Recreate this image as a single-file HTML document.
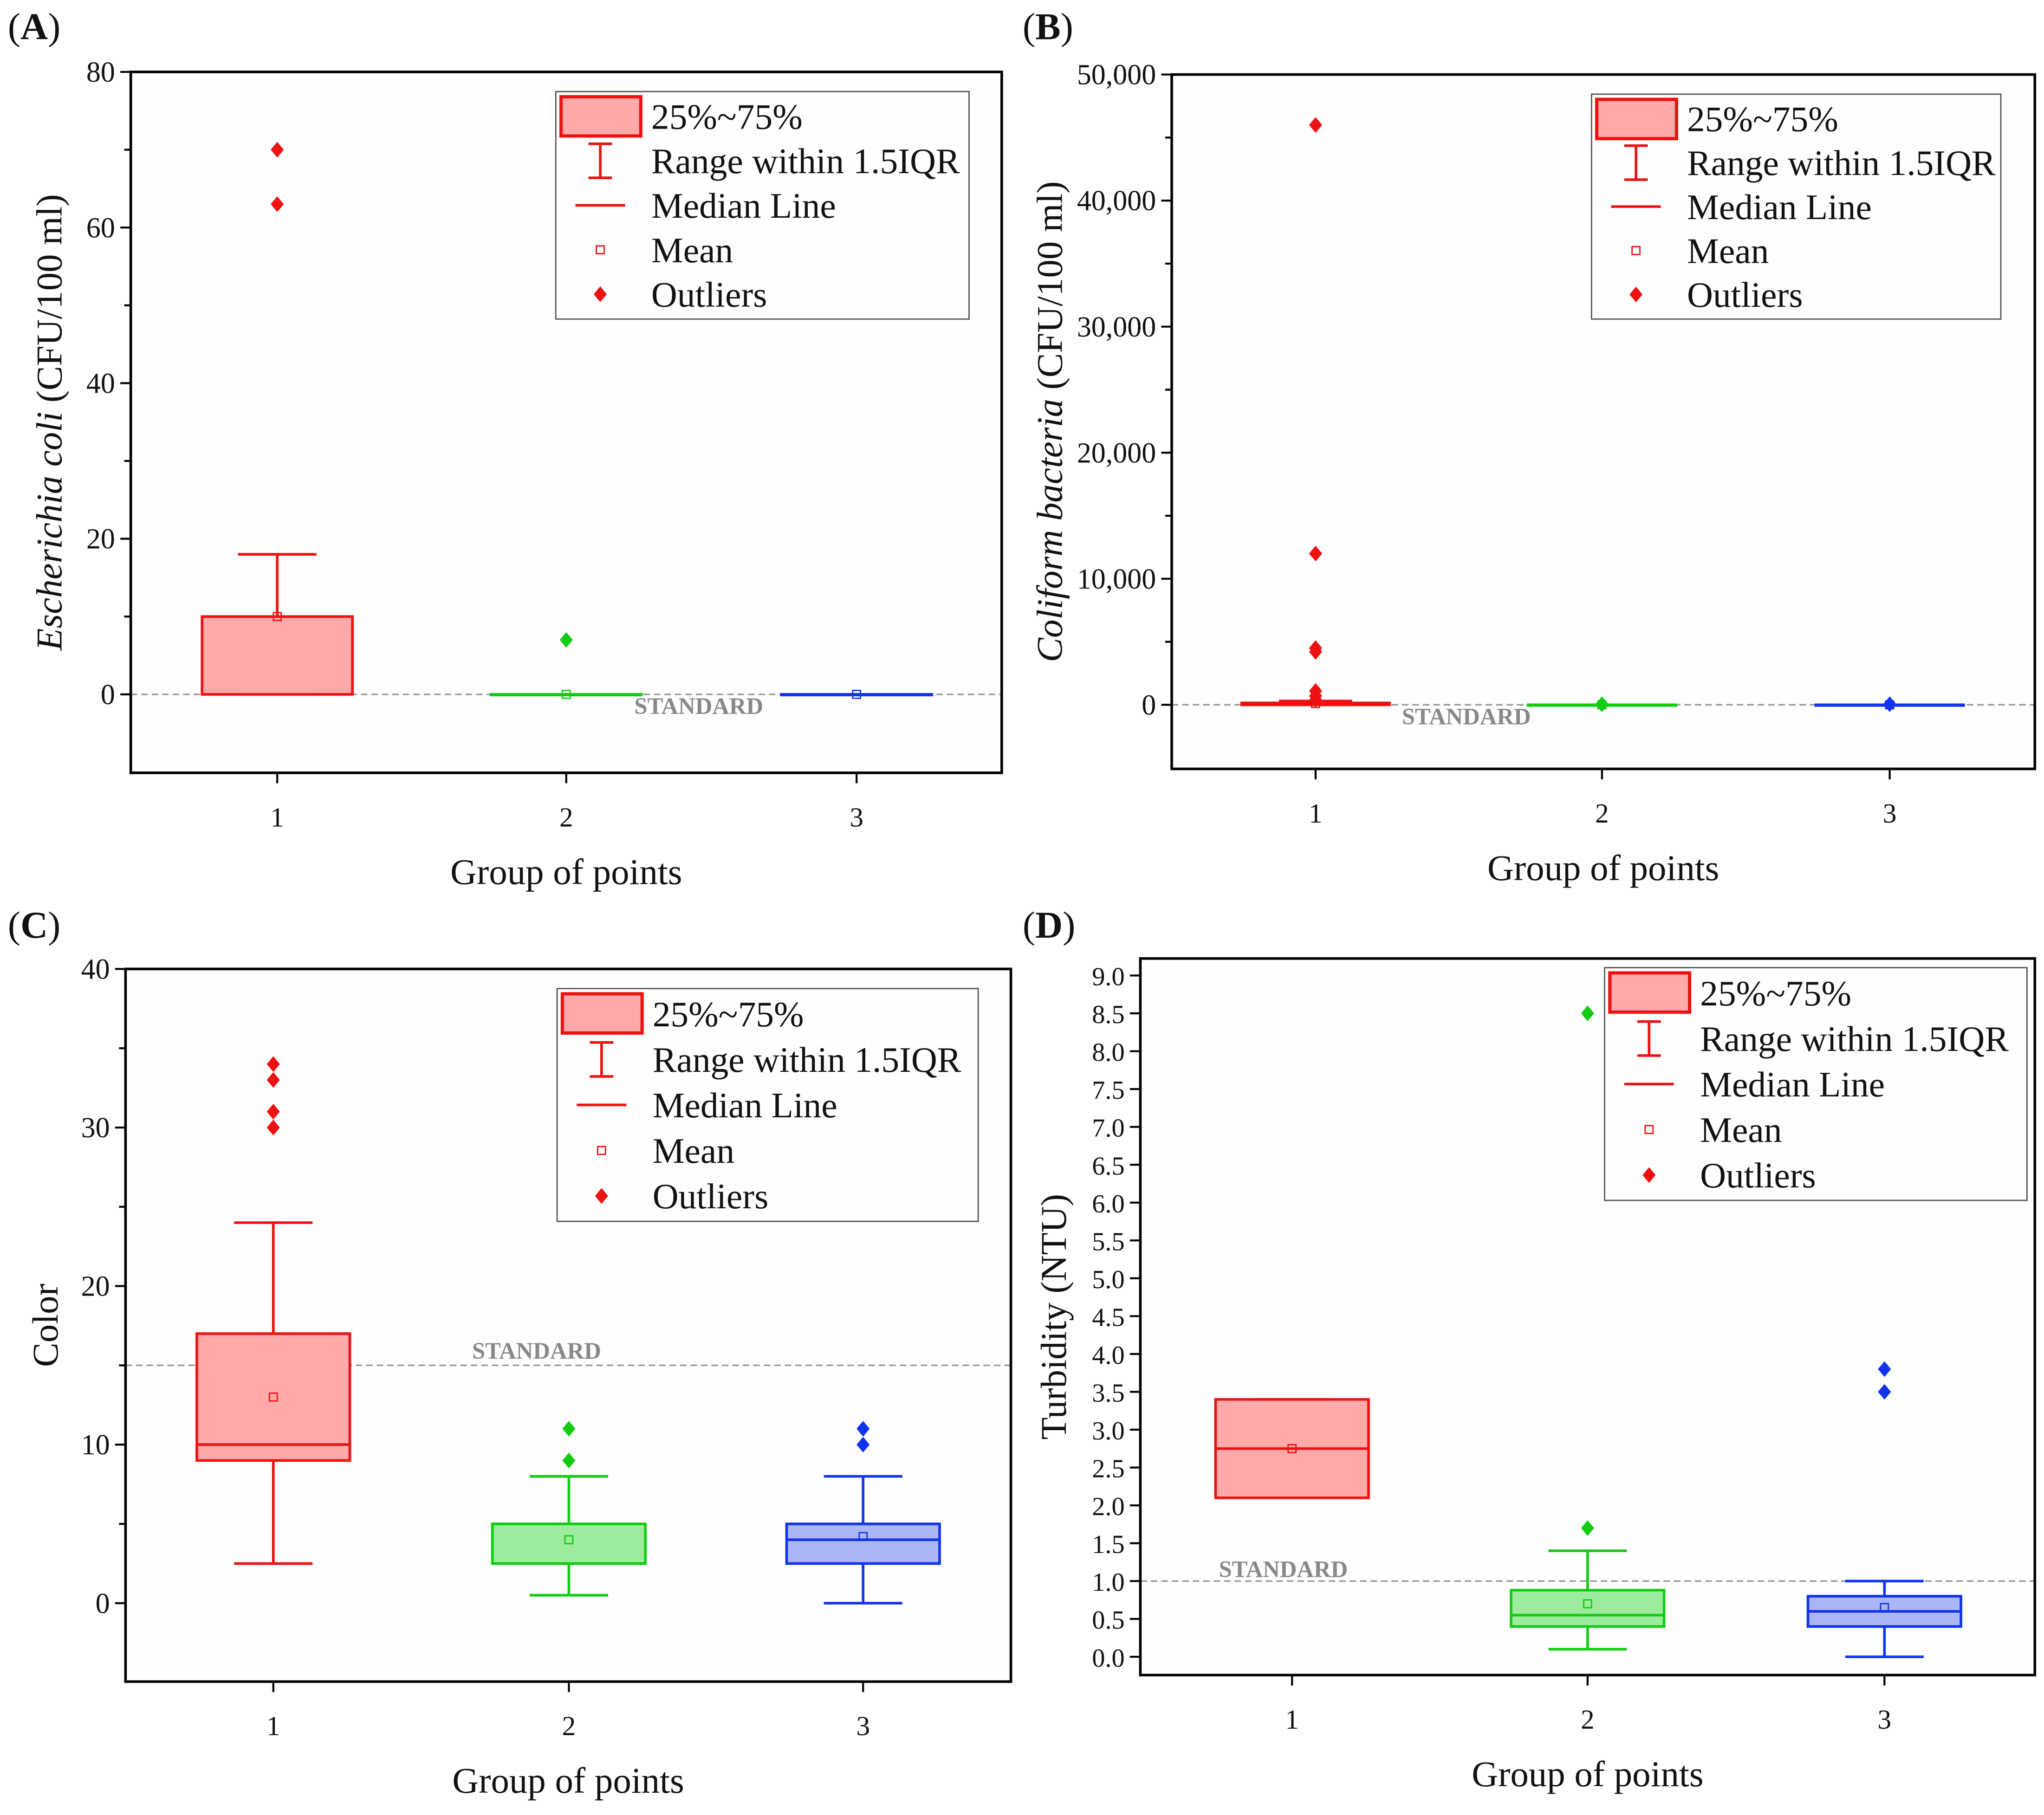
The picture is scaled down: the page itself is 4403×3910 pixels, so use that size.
<!DOCTYPE html>
<html><head><meta charset="utf-8"><style>
html,body{margin:0;padding:0;background:#fff}
svg{display:block}
text{font-family:"Liberation Serif",serif;fill:#111}
</style></head><body>
<svg id="fig" width="4403" height="3910" viewBox="0 0 1563 1388" preserveAspectRatio="none" xmlns="http://www.w3.org/2000/svg"></svg>
<script>
// Panel A: E. coli
const aCategories=["1","2","3"];
const aQ1=[0,0,0], aQ3=[10,0,0], aMedian=[0,0,0], aMean=[10,0,0], aLow=[0,0,0], aHigh=[18,0,0];
const aOutliers=[[63,70],[7],[]];
const aTicks=[0,20,40,60,80];
// Panel B: Coliform
const bCategories=["1","2","3"];
const bQ1=[0,0,0], bQ3=[150,0,0], bMedian=[0,0,0], bMean=[100,0,0], bLow=[0,0,0], bHigh=[300,0,0];
const bOutliers=[[46000,12000,4500,4200,1100,700,400],[50],[50]];
const bTicks=[0,10000,20000,30000,40000,50000];
const bTickLabels=["0","10,000","20,000","30,000","40,000","50,000"];
// Panel C: Color
const cCategories=["1","2","3"];
const cQ1=[9,2.5,2.5], cQ3=[17,5,5], cMedian=[10,2.5,4], cMean=[13,4,4.2], cLow=[2.5,0.5,0], cHigh=[24,8,8];
const cOutliers=[[30,31,33,34],[9,11],[10,11]];
const cTicks=[0,10,20,30,40];
// Panel D: Turbidity
const dCategories=["1","2","3"];
const dQ1=[2.1,0.4,0.4], dQ3=[3.4,0.88,0.8], dMedian=[2.75,0.55,0.6], dMean=[2.75,0.7,0.65], dLow=[2.1,0.1,0], dHigh=[3.4,1.4,1.0];
const dOutliers=[[],[1.7,8.5],[3.5,3.8]];
const dTicks=[0,0.5,1,1.5,2,2.5,3,3.5,4,4.5,5,5.5,6,6.5,7,7.5,8,8.5,9];

const NS="http://www.w3.org/2000/svg";
const svg=document.getElementById('fig');
function el(tag,attrs,parent,txt){const e=document.createElementNS(NS,tag);for(const k in attrs)e.setAttribute(k,attrs[k]);if(txt!==undefined)e.textContent=txt;(parent||svg).appendChild(e);return e;}
const colors=[{s:"#ee1111",f:"#ffaaaa"},{s:"#11cc11",f:"#9dec9d"},{s:"#1133ee",f:"#aab6f6"}];

function panel(p){
  const g=el('g',{});
  
  
  const y=v=>p.y0+(v-p.vmin)/(p.vmax-p.vmin)*(p.y1-p.y0);
  const x=i=>p.cx[i];
  el('rect',{x:p.L,y:p.T,width:p.R-p.L,height:p.B-p.T,fill:"#fefefe"},g);
  const sl=el('line',{x1:p.L,x2:p.R,y1:y(p.std),y2:y(p.std),stroke:"#999",'stroke-width':1.2,'stroke-dasharray':"5,3"},g);
  
  const st=el('text',{x:p.stdX,y:y(p.std)+p.stdDy,'font-size':18,'font-weight':'bold',style:'fill:#888'},g,"STANDARD");
  
  for(let i=0;i<3;i++){
    const c=colors[i],hw=p.bw/2,bg=el('g',{},g);
    
    el('line',{x1:x(i),x2:x(i),y1:y(p.high[i]),y2:y(p.low[i]),stroke:c.s,'stroke-width':2},bg);
    el('line',{x1:x(i)-p.cap,x2:x(i)+p.cap,y1:y(p.high[i]),y2:y(p.high[i]),stroke:c.s,'stroke-width':2},bg);
    el('line',{x1:x(i)-p.cap,x2:x(i)+p.cap,y1:y(p.low[i]),y2:y(p.low[i]),stroke:c.s,'stroke-width':2},bg);
    const t=y(p.q3[i]),b=y(p.q1[i]);
    el('rect',{x:x(i)-hw,y:t,width:p.bw,height:Math.max(b-t,0.5),fill:c.f,stroke:c.s,'stroke-width':2},bg);
    el('line',{x1:x(i)-hw,x2:x(i)+hw,y1:y(p.med[i]),y2:y(p.med[i]),stroke:c.s,'stroke-width':2},bg);
    el('rect',{x:x(i)-3,y:y(p.mean[i])-3,width:6,height:6,fill:"none",stroke:c.s,'stroke-width':1},bg);
    p.out[i].forEach(v=>{const yy=y(v),xx=x(i);const d=el('polygon',{points:`${xx},${yy-6} ${xx+5},${yy} ${xx},${yy+6} ${xx-5},${yy}`,fill:c.s},bg);});
  }
  el('rect',{x:p.L,y:p.T,width:p.R-p.L,height:p.B-p.T,fill:"none",stroke:"#000",'stroke-width':2},g);
  const ya=el('g',{},g);
  p.ticks.forEach((v,k)=>{
    el('line',{x1:p.L-8,x2:p.L,y1:y(v),y2:y(v),stroke:"#000",'stroke-width':1.5},ya);
    el('text',{x:p.L-12,y:y(v)+7.5,'font-size':p.tfs,'text-anchor':'end'},ya,p.labels?p.labels[k]:(p.dec?v.toFixed(1):String(v)));
    if(p.minor && k<p.ticks.length-1){const m=(v+p.ticks[k+1])/2;el('line',{x1:p.L-5,x2:p.L,y1:y(m),y2:y(m),stroke:"#000",'stroke-width':1.5},ya);}
  });
  if(p.minor){const m=p.ticks[0]-(p.ticks[1]-p.ticks[0])/2;if(m>=p.vmin)el('line',{x1:p.L-5,x2:p.L,y1:y(m),y2:y(m),stroke:"#000",'stroke-width':1.5},ya);}
  const xa=el('g',{},g);
  p.cats.forEach((c,i)=>{el('line',{x1:x(i),x2:x(i),y1:p.B,y2:p.B+8,stroke:"#000",'stroke-width':1.5},xa);
    el('text',{x:x(i),y:p.B+41,'font-size':21,'text-anchor':'middle'},xa,c);});
  const xt=el('text',{x:(p.L+p.R)/2,y:p.B+85,'font-size':28,'text-anchor':'middle'},g,"Group of points");
  
  const yt=el('text',{x:0,y:0,'font-size':28,'text-anchor':'middle',transform:`translate(${p.ytx},${(p.T+p.B)/2}) rotate(-90)`},g);
  
  if(p.italic){el('tspan',{'font-style':'italic'},yt,p.italic);el('tspan',{},yt,p.ytitle);}else yt.textContent=p.ytitle;
  const pl=el('text',{x:p.plx,y:p.ply,'font-size':29},g);
  
  el('tspan',{},pl,"(");el('tspan',{'font-weight':'bold'},pl,p.id);el('tspan',{},pl,")");
  const lg=el('g',{},g);
  const [lx,ly,lw,lh]=p.leg;
  el('rect',{x:lx,y:ly,width:lw,height:lh,fill:"#fefefe",stroke:"#555",'stroke-width':1},lg);
  const rs=(lh-4)/5, ix=lx+34;
  const names=["25%~75%","Range within 1.5IQR","Median Line","Mean","Outliers"];
  for(let k=0;k<5;k++){
    const cy=ly+rs*(k+0.5)+2;
    const e=el('g',{},lg);
    if(k==0)el('rect',{x:lx+4,y:ly+4,width:61,height:30,fill:"#ffaaaa",stroke:"#ee1111",'stroke-width':2.5},e);
    if(k==1){el('line',{x1:ix,x2:ix,y1:cy-13,y2:cy+13,stroke:"#ee1111",'stroke-width':2},e);el('line',{x1:ix-9,x2:ix+9,y1:cy-13,y2:cy-13,stroke:"#ee1111",'stroke-width':2},e);el('line',{x1:ix-9,x2:ix+9,y1:cy+13,y2:cy+13,stroke:"#ee1111",'stroke-width':2},e);}
    if(k==2)el('line',{x1:ix-19,x2:ix+19,y1:cy,y2:cy,stroke:"#ee1111",'stroke-width':2},e);
    if(k==3)el('rect',{x:ix-3,y:cy-3,width:6,height:6,fill:"none",stroke:"#ee1111",'stroke-width':1},e);
    if(k==4)el('polygon',{points:`${ix},${cy-6} ${ix+5},${cy} ${ix},${cy+6} ${ix-5},${cy}`,fill:"#ee1111"},e);
    el('text',{x:lx+73,y:cy+9.5,'font-size':27.5},e,names[k]);
  }
}
panel({id:"A",L:100,R:766,T:55,B:591,vmin:0,vmax:80,y0:531,y1:55,cx:[212,433,655],bw:115,cap:30,
 q1:aQ1,q3:aQ3,med:aMedian,mean:aMean,low:aLow,high:aHigh,out:aOutliers,ticks:aTicks,cats:aCategories,minor:true,tfs:22,
 std:0,stdX:485,stdDy:15,ytx:47,italic:"Escherichia coli",ytitle:" (CFU/100 ml)",plx:6,ply:30,leg:[425,70,316,174]});
panel({id:"B",L:896,R:1556,T:57,B:588,vmin:0,vmax:50000,y0:539,y1:57,cx:[1006,1225,1445],bw:113,cap:28,
 q1:bQ1,q3:bQ3,med:bMedian,mean:bMean,low:bLow,high:bHigh,out:bOutliers,ticks:bTicks,labels:bTickLabels,cats:bCategories,minor:true,tfs:22,
 std:0,stdX:1072,stdDy:15,ytx:812,italic:"Coliform bacteria",ytitle:" (CFU/100 ml)",plx:782,ply:30,leg:[1217,72,313,172]});
panel({id:"C",L:96,R:773,T:741,B:1286,vmin:0,vmax:40,y0:1226,y1:741,cx:[209,435,660],bw:117,cap:30,
 q1:cQ1,q3:cQ3,med:cMedian,mean:cMean,low:cLow,high:cHigh,out:cOutliers,ticks:cTicks,cats:cCategories,minor:true,tfs:22,
 std:15,stdX:361,stdDy:-5,ytx:44,ytitle:"Color",plx:6,ply:717,leg:[426,756,322,178]});
panel({id:"D",L:872,R:1556,T:733,B:1281,vmin:0,vmax:9,y0:1267,y1:746,cx:[988,1214,1441],bw:117,cap:30,
 q1:dQ1,q3:dQ3,med:dMedian,mean:dMean,low:dLow,high:dHigh,out:dOutliers,ticks:dTicks,cats:dCategories,minor:false,dec:true,tfs:20,
 std:1,stdX:932,stdDy:-3,ytx:815,ytitle:"Turbidity (NTU)",plx:782,ply:717,leg:[1227,740,323,178]});
</script>
</body></html>
